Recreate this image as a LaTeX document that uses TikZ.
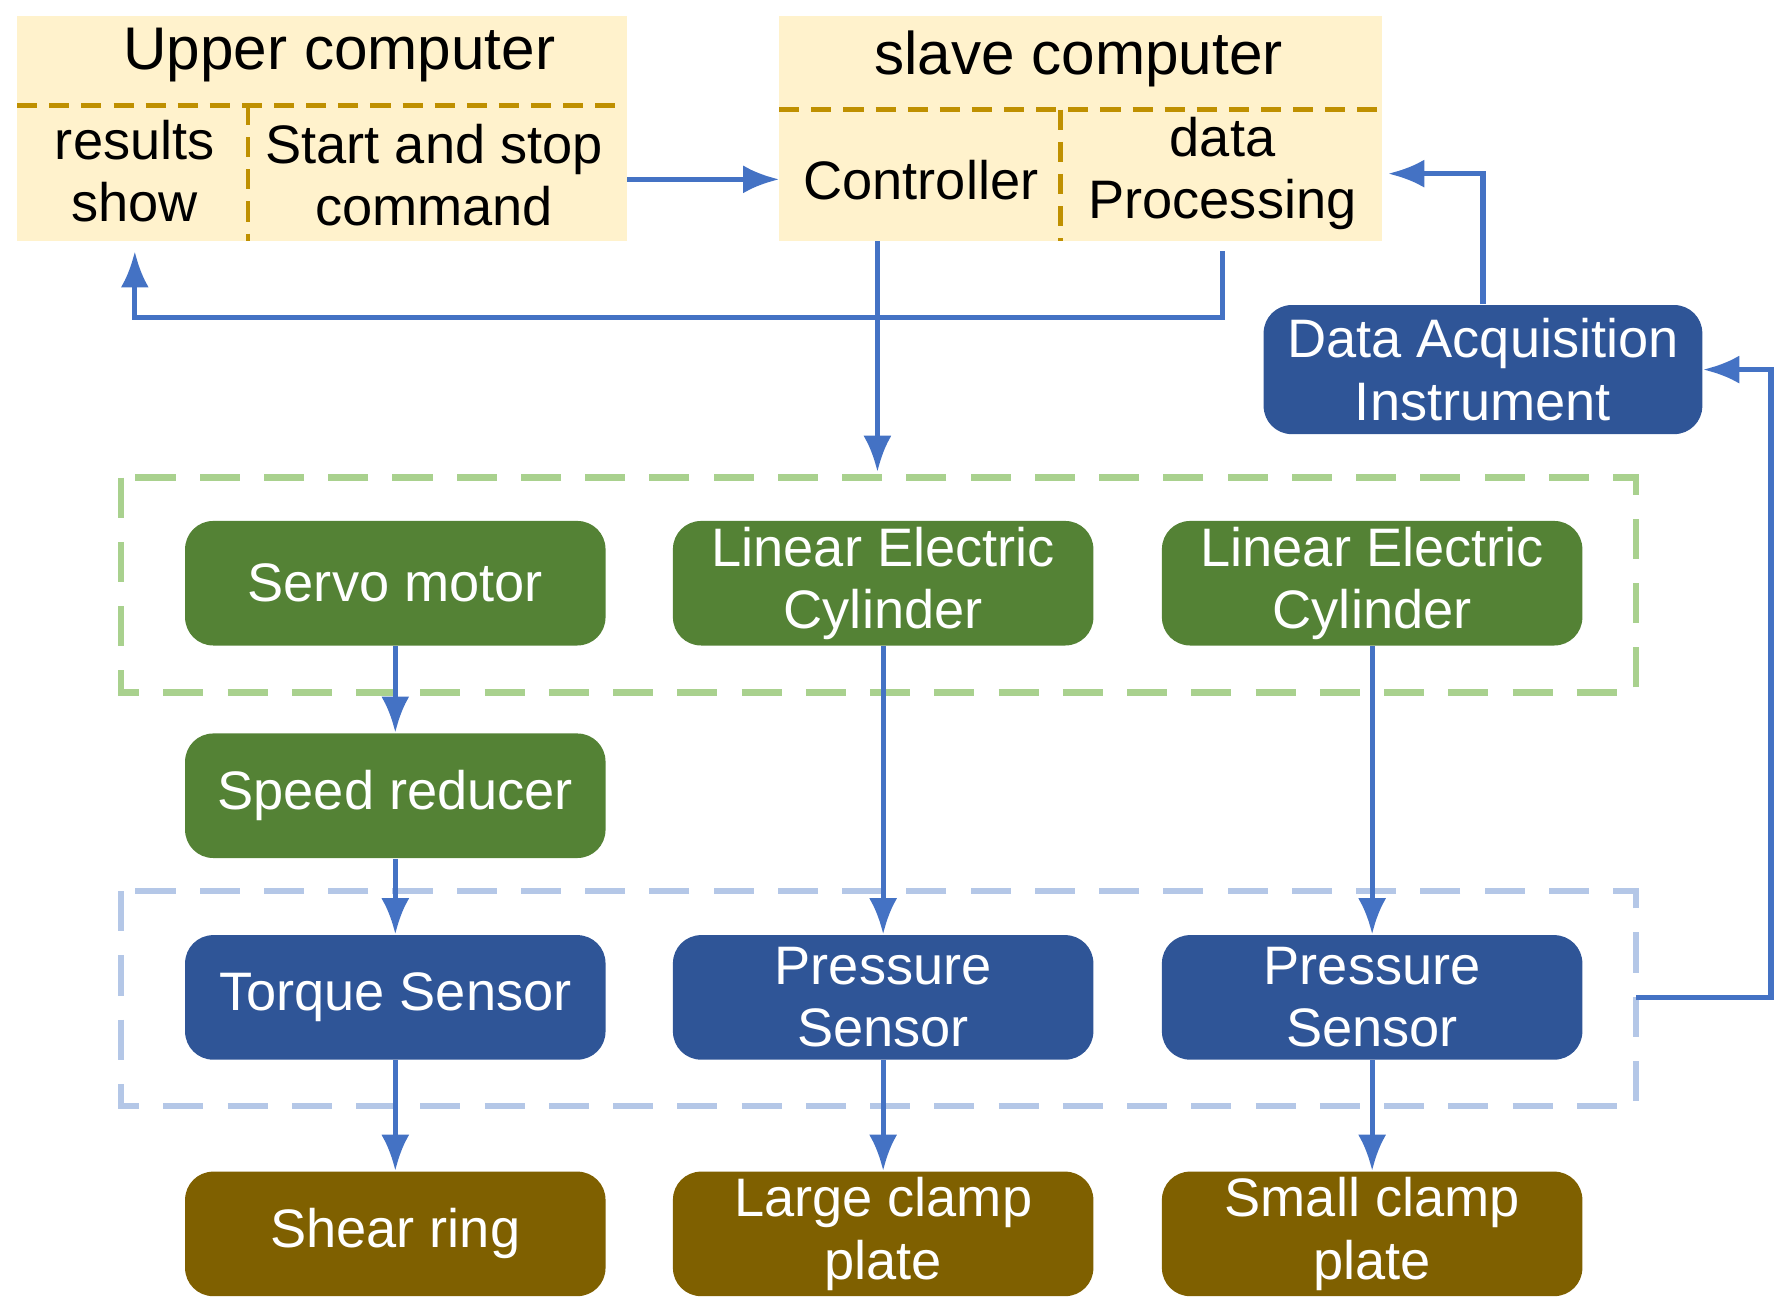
\documentclass[tikz,border=0pt]{standalone}
\usepackage{fontspec}
\setmainfont{Liberation Sans}
\usepackage{tikz}
\usetikzlibrary{calc, positioning, arrows.meta}
\definecolor{paleyellow}{HTML}{FFF2CC}
\definecolor{gold}{HTML}{BF9000}
\definecolor{darkgreen}{HTML}{548235}
\definecolor{darkblue}{HTML}{2F5597}
\definecolor{darkbrown}{HTML}{7F6000}
\definecolor{linkblue}{HTML}{4472C4}
\definecolor{lightgreen}{HTML}{A9D18E}
\definecolor{lightblue}{HTML}{B4C7E7}
\tikzset{
  block/.style={rounded corners=7pt, minimum width=3.68cm, minimum height=1.09cm,
    text=white, align=center, font=\fontsize{13.5}{15.5}\selectfont, inner sep=1pt},
  link/.style={draw=linkblue, line width=1.3pt, -{Latex[length=9pt,width=7pt]}},
  goldline/.style={draw=gold, line width=1.2pt, dash pattern=on 5pt off 3pt},
  group/.style={line width=1.6pt, dash pattern=on 10pt off 6pt}
}
\begin{document}
\begin{tikzpicture}[font=\fontsize{13.5}{15.5}\selectfont]
    \useasboundingbox (0,0) rectangle (15.65,-11.47);
    % upper computer
    \fill[paleyellow] (0.15,-0.14) rectangle (5.49,-2.11);
    \draw[goldline] (0.15,-0.92) -- (5.49,-0.92);
    \draw[goldline] (2.17,-0.92) -- (2.17,-2.11);
    \node (upper) at (2.97,-0.48) {\fontsize{15}{18}\selectfont Upper computer};
    \node[align=center] (show) at (1.18,-1.5) {results\\show};
    \node[align=center] (start) at (3.8,-1.53) {Start and stop\\command};
    \coordinate (upperE) at (5.49,-1.57);
    % slave computer
    \fill[paleyellow] (6.82,-0.14) rectangle (12.1,-2.11);
    \draw[goldline] (6.82,-0.96) -- (12.1,-0.96);
    \draw[goldline] (9.28,-0.96) -- (9.28,-2.11);
    \node (slave) at (9.44,-0.52) {\fontsize{15}{18}\selectfont slave computer};
    \node (ctrl) at (8.06,-1.58) {Controller};
    \node[align=center] (proc) at (10.7,-1.52) {data\\Processing};
    \coordinate (slaveW) at (6.82,-1.57);
    \coordinate (ctrlS) at (7.68,-2.11);
    \coordinate (procS) at (10.7,-2.2);
    \coordinate (procE) at (12.15,-1.52);
    \coordinate (showS) at (1.18,-2.2);
    % acquisition
    \node[block, fill=darkblue, minimum width=3.84cm, minimum height=1.13cm] (daq) at (12.98,-3.235) {Data Acquisition\\Instrument};
    % groups
    \draw[group, lightgreen] (1.06,-4.18) rectangle (14.32,-6.06);
    \draw[group, lightblue] (1.06,-7.8) rectangle (14.32,-9.68);
    \coordinate (greenN) at (7.68,-4.13);
    \coordinate (blueE) at (14.32,-8.73);
    % actuators
    \node[block, fill=darkgreen] (servo) at (3.46,-5.105) {Servo motor};
    \node[block, fill=darkgreen] (cylA) at (7.73,-5.105) {Linear Electric\\Cylinder};
    \node[block, fill=darkgreen] (cylB) at (12.01,-5.105) {Linear Electric\\Cylinder};
    \node[block, fill=darkgreen] (reducer) at (3.46,-6.965) {Speed reducer};
    % sensors
    \node[block, fill=darkblue] (torque) at (3.46,-8.73) {Torque Sensor};
    \node[block, fill=darkblue] (pressA) at (7.73,-8.73) {Pressure\\Sensor};
    \node[block, fill=darkblue] (pressB) at (12.01,-8.73) {Pressure\\Sensor};
    % loads
    \node[block, fill=darkbrown] (shear) at (3.46,-10.8) {Shear ring};
    \node[block, fill=darkbrown] (large) at (7.73,-10.8) {Large clamp\\plate};
    \node[block, fill=darkbrown] (small) at (12.01,-10.8) {Small clamp\\plate};
    % connectors
    \draw[link] (upperE) -- (slaveW);
    \draw[link] (procS) |- (5,-2.78) -| (showS);
    \draw[link] (ctrlS) -- (greenN);
    \draw[link] (daq.north) |- (procE);
    \draw[link] (blueE) -- (15.5,-8.73) |- (daq.east);
    \draw[link] (servo) -- (reducer);
    \draw[link] (reducer) -- (torque);
    \draw[link] (cylA) -- (pressA);
    \draw[link] (cylB) -- (pressB);
    \draw[link] (torque) -- (shear);
    \draw[link] (pressA) -- (large);
    \draw[link] (pressB) -- (small);
\end{tikzpicture}
\end{document}
